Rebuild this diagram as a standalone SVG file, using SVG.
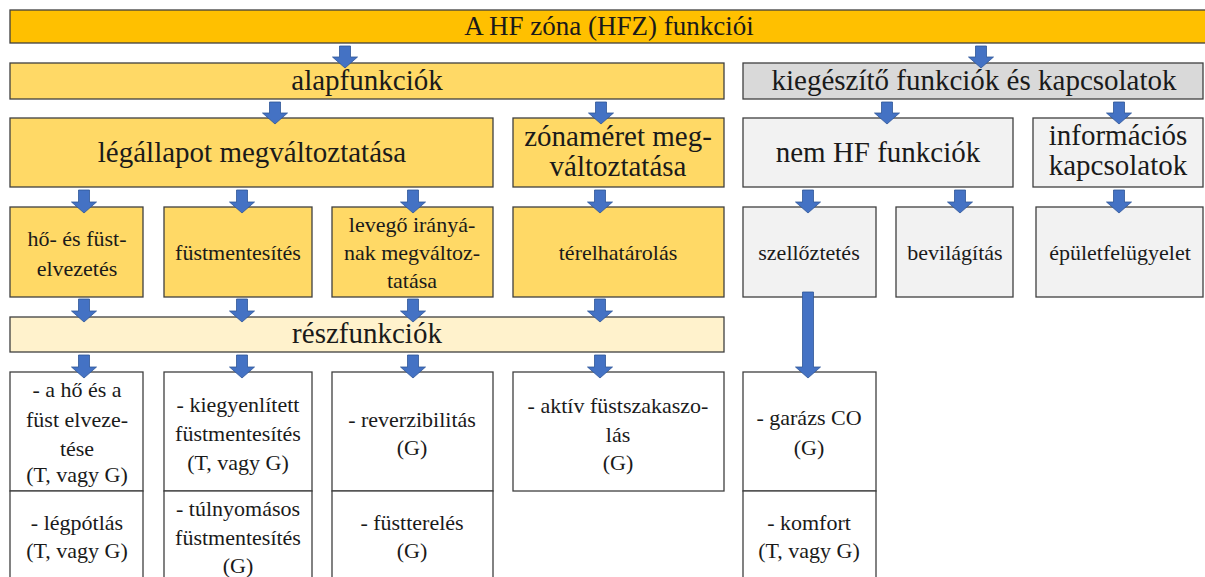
<svg xmlns="http://www.w3.org/2000/svg" width="1205" height="577" viewBox="0 0 1205 577">
<style>
rect{stroke:#3f3f3f;stroke-width:1.3}
.t0{fill:#FFC000}
.gold{fill:#FFD966}
.pale{fill:#FFF2CC}
.grey{fill:#D9D9D9}
.lg{fill:#F2F2F2}
.wh{fill:#FFFFFF}
text{fill:#1a1a1a;text-anchor:middle;font-family:'Liberation Serif','Times New Roman',serif}
.big{font-size:29px}
.ttl{font-size:27px}
.sm{font-size:22px}
.arr{fill:#4472C4;stroke:#2F5597;stroke-width:0.8}
</style>
<rect width="1205" height="577" fill="#FFFFFF" style="stroke:none"/>
<g id="title"><rect class="t0" x="10" y="10" width="1200" height="33"/><text class="ttl" x="609" y="35">A HF zóna (HFZ) funkciói</text></g>
<g id="alapfunkciok"><rect class="gold" x="10" y="63" width="714" height="36"/><text class="big" x="367" y="90">alapfunkciók</text></g>
<g id="kiegeszito"><rect class="grey" x="743" y="63" width="460" height="36"/><text class="big" x="974" y="90">kiegészítő funkciók és kapcsolatok</text></g>
<g id="legallapot"><rect class="gold" x="10" y="118" width="483" height="69"/><text class="big" x="252" y="162">légállapot megváltoztatása</text></g>
<g id="zonameret"><rect class="gold" x="513" y="118" width="211" height="69"/><text class="big" x="618" y="146">zónaméret meg-</text><text class="big" x="618" y="176">változtatása</text></g>
<g id="nemhf"><rect class="lg" x="743" y="118" width="270" height="69"/><text class="big" x="878" y="162">nem HF funkciók</text></g>
<g id="informacios"><rect class="lg" x="1033" y="118" width="170" height="69"/><text class="big" x="1118" y="145">információs</text><text class="big" x="1118" y="175">kapcsolatok</text></g>
<g id="hofust"><rect class="gold" x="10" y="207" width="133" height="90"/><text class="sm" x="77" y="246">hő- és füst-</text><text class="sm" x="77" y="276">elvezetés</text></g>
<g id="fustmentesites"><rect class="gold" x="164" y="207" width="148" height="90"/><text class="sm" x="238" y="260">füstmentesítés</text></g>
<g id="levego"><rect class="gold" x="332" y="207" width="161" height="90"/><text class="sm" x="412" y="232">levegő irányá-</text><text class="sm" x="412" y="260">nak megváltoz-</text><text class="sm" x="412" y="288">tatása</text></g>
<g id="terelhatarolas"><rect class="gold" x="513" y="207" width="211" height="90"/><text class="sm" x="618" y="260">térelhatárolás</text></g>
<g id="szelloztetes"><rect class="lg" x="743" y="207" width="133" height="90"/><text class="sm" x="809" y="260">szellőztetés</text></g>
<g id="bevilagitas"><rect class="lg" x="896" y="207" width="117" height="90"/><text class="sm" x="955" y="260">bevilágítás</text></g>
<g id="epulet"><rect class="lg" x="1036" y="207" width="167" height="90"/><text class="sm" x="1120" y="260">épületfelügyelet</text></g>
<g id="reszfunkciok"><rect class="pale" x="10" y="317" width="714" height="35"/><text class="big" x="367" y="343">részfunkciók</text></g>
<g id="hoelvezetes"><rect class="wh" x="10" y="372" width="133" height="119"/><text class="sm" x="77" y="397">- a hő és a</text><text class="sm" x="77" y="427">füst elveze-</text><text class="sm" x="77" y="456">tése</text><text class="sm" x="77" y="482">(T, vagy G)</text></g>
<g id="legpotlas"><rect class="wh" x="10" y="491" width="133" height="100"/><text class="sm" x="77" y="530">- légpótlás</text><text class="sm" x="77" y="558">(T, vagy G)</text></g>
<g id="kiegyenlitett"><rect class="wh" x="164" y="372" width="148" height="119"/><text class="sm" x="238" y="412">- kiegyenlített</text><text class="sm" x="238" y="441">füstmentesítés</text><text class="sm" x="238" y="470">(T, vagy G)</text></g>
<g id="tulnyomasos"><rect class="wh" x="164" y="491" width="148" height="100"/><text class="sm" x="238" y="516">- túlnyomásos</text><text class="sm" x="238" y="545">füstmentesítés</text><text class="sm" x="238" y="573">(G)</text></g>
<g id="reverzibilitas"><rect class="wh" x="332" y="372" width="161" height="119"/><text class="sm" x="412" y="427">- reverzibilitás</text><text class="sm" x="412" y="455">(G)</text></g>
<g id="fustterele"><rect class="wh" x="332" y="491" width="161" height="100"/><text class="sm" x="412" y="530">- füstterelés</text><text class="sm" x="412" y="558">(G)</text></g>
<g id="aktiv"><rect class="wh" x="513" y="372" width="211" height="119"/><text class="sm" x="618" y="413">- aktív füstszakaszo-</text><text class="sm" x="618" y="442">lás</text><text class="sm" x="618" y="470">(G)</text></g>
<g id="garazs"><rect class="wh" x="743" y="372" width="133" height="119"/><text class="sm" x="809" y="425">- garázs CO</text><text class="sm" x="809" y="455">(G)</text></g>
<g id="komfort"><rect class="wh" x="743" y="491" width="133" height="100"/><text class="sm" x="809" y="530">- komfort</text><text class="sm" x="809" y="558">(T, vagy G)</text></g>
<g id="connectors">
<polygon class="arr" points="339.5,46 350.5,46 350.5,57 357.5,57 345,68 332.5,57 339.5,57"/>
<polygon class="arr" points="975.5,46 986.5,46 986.5,57 993.5,57 981,68 968.5,57 975.5,57"/>
<polygon class="arr" points="269.5,102 280.5,102 280.5,113 287.5,113 275,124 262.5,113 269.5,113"/>
<polygon class="arr" points="595.5,102 606.5,102 606.5,113 613.5,113 601,124 588.5,113 595.5,113"/>
<polygon class="arr" points="881.5,102 892.5,102 892.5,113 899.5,113 887,124 874.5,113 881.5,113"/>
<polygon class="arr" points="1113.5,102 1124.5,102 1124.5,113 1131.5,113 1119,124 1106.5,113 1113.5,113"/>
<polygon class="arr" points="78.5,190 89.5,190 89.5,202 96.5,202 84,213 71.5,202 78.5,202"/>
<polygon class="arr" points="236.5,190 247.5,190 247.5,202 254.5,202 242,213 229.5,202 236.5,202"/>
<polygon class="arr" points="407.5,190 418.5,190 418.5,202 425.5,202 413,213 400.5,202 407.5,202"/>
<polygon class="arr" points="594.5,190 605.5,190 605.5,202 612.5,202 600,213 587.5,202 594.5,202"/>
<polygon class="arr" points="802.5,190 813.5,190 813.5,202 820.5,202 808,213 795.5,202 802.5,202"/>
<polygon class="arr" points="954.5,190 965.5,190 965.5,202 972.5,202 960,213 947.5,202 954.5,202"/>
<polygon class="arr" points="1113.5,190 1124.5,190 1124.5,202 1131.5,202 1119,213 1106.5,202 1113.5,202"/>
<polygon class="arr" points="78.5,299 89.5,299 89.5,311 96.5,311 84,322 71.5,311 78.5,311"/>
<polygon class="arr" points="236.5,299 247.5,299 247.5,311 254.5,311 242,322 229.5,311 236.5,311"/>
<polygon class="arr" points="407.5,299 418.5,299 418.5,311 425.5,311 413,322 400.5,311 407.5,311"/>
<polygon class="arr" points="594.5,299 605.5,299 605.5,311 612.5,311 600,322 587.5,311 594.5,311"/>
<polygon class="arr" points="78.5,355 89.5,355 89.5,367 96.5,367 84,378 71.5,367 78.5,367"/>
<polygon class="arr" points="236.5,355 247.5,355 247.5,367 254.5,367 242,378 229.5,367 236.5,367"/>
<polygon class="arr" points="407.5,355 418.5,355 418.5,367 425.5,367 413,378 400.5,367 407.5,367"/>
<polygon class="arr" points="594.5,355 605.5,355 605.5,367 612.5,367 600,378 587.5,367 594.5,367"/>
<polygon class="arr" points="802.5,292 813.5,292 813.5,367 820.5,367 808,378 795.5,367 802.5,367"/>
</g>
</svg>
